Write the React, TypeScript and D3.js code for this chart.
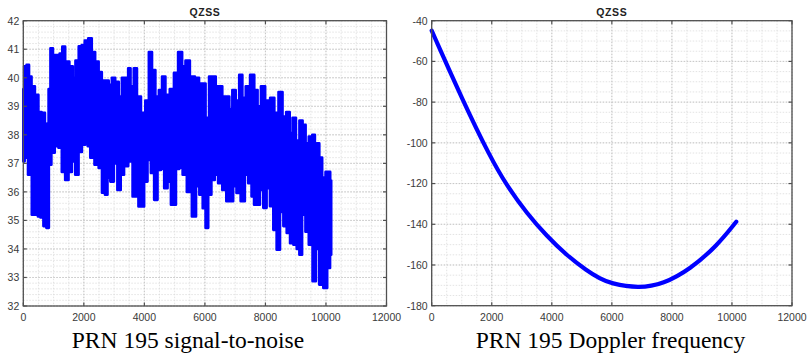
import React from "react";
import * as d3 from "d3";

const X_TICKS = [0, 2000, 4000, 6000, 8000, 10000, 12000];
const SNR_TICKS = [32, 33, 34, 35, 36, 37, 38, 39, 40, 41, 42];
const DOP_TICKS = [-180, -160, -140, -120, -100, -80, -60, -40];

const SNR_UPPER_X = [0, 56, 156, 222, 322, 444, 554, 653, 776, 819, 852, 942, 1018, 1151, 1250, 1327, 1440, 1605, 1665, 1781, 1881, 1980, 2080, 2212, 2312, 2435, 2544, 2644, 2766, 2876, 2975, 3098, 3208, 3307, 3440, 3490, 3596, 3705, 3805, 3970, 4093, 4203, 4302, 4425, 4534, 4634, 4757, 4922, 5032, 5198, 5297, 5420, 5586, 5752, 5861, 5961, 6083, 6193, 6292, 6425, 6525, 6624, 6757, 6857, 6956, 7079, 7188, 7288, 7410, 7576, 7686, 7795, 7908, 8073, 8239, 8349, 8515, 8614, 8757, 8846, 8946, 9069, 9178, 9278, 9377, 9487, 9609, 9659, 9742, 9818, 9931, 10041, 10107, 10173];
const SNR_UPPER = [39.6, 40.4, 40.45, 40.04, 39.7, 39.4, 38.8, 38.77, 38.35, 38.4, 39.6, 41.03, 40.8, 40.8, 40.85, 41.09, 40.57, 40.4, 40.0, 40.6, 41.1, 41.15, 41.3, 41.38, 40.9, 40.57, 40.2, 39.9, 39.9, 39.75, 40.0, 39.86, 39.34, 40.0, 40.0, 40.33, 39.7, 40.33, 39.34, 38.77, 39.2, 40.9, 40.27, 39.34, 39.57, 40.04, 39.4, 39.6, 40.17, 40.9, 40.4, 40.6, 40.04, 40.0, 39.8, 39.8, 38.6, 40.04, 40.04, 39.7, 39.7, 39.34, 39.34, 38.9, 39.57, 39.2, 40.1, 39.3, 39.7, 40.1, 39.57, 39.0, 39.7, 39.2, 39.3, 38.77, 39.5, 38.64, 38.8, 38.06, 38.6, 37.8, 38.5, 38.35, 37.7, 37.94, 38.0, 37.55, 37.7, 37.2, 36.5, 36.7, 36.7, 36.4];

const SNR_LOWER_X = [0, 90, 222, 338, 444, 521, 610, 720, 803, 886, 969, 1108, 1217, 1327, 1440, 1549, 1659, 1771, 1881, 1990, 2103, 2156, 2269, 2435, 2544, 2654, 2743, 2819, 2932, 3052, 3164, 3274, 3383, 3549, 3672, 3771, 3838, 3937, 4047, 4160, 4269, 4378, 4491, 4601, 4710, 4823, 4932, 4989, 5098, 5208, 5320, 5486, 5652, 5762, 5871, 5984, 6060, 6160, 6269, 6382, 6491, 6657, 6757, 6879, 6989, 7098, 7264, 7377, 7486, 7596, 7652, 7762, 7875, 7984, 8093, 8206, 8316, 8425, 8538, 8648, 8757, 8870, 8979, 9088, 9155, 9267, 9377, 9487, 9626, 9709, 9842, 9984, 10097, 10173];
const SNR_LOWER = [37.07, 37.2, 36.6, 35.2, 35.2, 35.14, 35.1, 34.8, 34.74, 36.95, 37.37, 37.6, 37.55, 36.7, 36.42, 36.7, 37.07, 36.6, 37.4, 37.65, 38.1, 37.6, 37.2, 36.95, 36.84, 35.97, 35.9, 36.5, 36.36, 37.0, 36.07, 36.6, 36.9, 37.07, 35.84, 35.84, 35.49, 35.49, 36.36, 37.12, 36.66, 35.72, 36.77, 36.8, 36.13, 36.36, 35.55, 35.55, 36.8, 36.85, 36.6, 36.0, 35.14, 36.2, 35.9, 35.43, 34.74, 35.9, 36.42, 36.6, 36.3, 36.07, 35.67, 35.67, 36.2, 35.96, 35.67, 36.6, 36.3, 35.84, 35.55, 35.55, 36.07, 35.44, 36.13, 35.5, 34.67, 33.97, 35.3, 34.8, 34.56, 34.2, 34.15, 34.0, 33.8, 35.2, 34.6, 34.15, 32.87, 34.0, 32.75, 32.63, 33.33, 33.8];

const DOP_X = [0, 1053, 1943, 2500, 3167, 3833, 4500, 5167, 5610, 5943, 6887, 7720, 8610, 9500, 10143];
const DOP_Y = [-44.9, -79.8, -106.8, -121.0, -134.6, -145.8, -155.3, -162.8, -166.8, -169.0, -171.5, -169.3, -162.0, -150.6, -138.75];

const TITLE = "QZSS";
const CAPTION_LEFT = "PRN 195 signal-to-noise";
const CAPTION_RIGHT = "PRN 195 Doppler frequency";

const BLUE = "#0000ff";
const AXIS = "#505050";
const TXT = "#3a3a3a";
const FONT = "'Liberation Sans', Arial, sans-serif";

type PanelProps = {
  left: number;
  right: number;
  top: number;
  bottom: number;
  yDomain: [number, number];
  yTicks: number[];
  yMinorStep: number;
  children: (x: d3.ScaleLinear<number, number>, y: d3.ScaleLinear<number, number>) => React.ReactNode;
  caption: string;
  captionX: number;
};

function Panel({ left, right, top, bottom, yDomain, yTicks, yMinorStep, children, caption, captionX }: PanelProps) {
  const x = d3.scaleLinear().domain([0, 12000]).range([left, right]);
  const y = d3.scaleLinear().domain(yDomain).range([bottom, top]);
  const xMinor = d3.range(0, 12000 + 1, 500);
  const yMinor = d3.range(yDomain[0], yDomain[1] + 1e-6, yMinorStep);
  const tl = 3.5;
  return (
    <g>
      <rect x={left} y={top} width={right - left} height={bottom - top} fill="#fff" />
      {xMinor.map((v, i) => (
        <line key={"xm" + i} x1={x(v)} x2={x(v)} y1={top} y2={bottom} stroke="#dcdcdc" strokeWidth={0.8} strokeDasharray="1.5,1.5" />
      ))}
      {yMinor.map((v, i) => (
        <line key={"ym" + i} x1={left} x2={right} y1={y(v)} y2={y(v)} stroke="#dcdcdc" strokeWidth={0.8} strokeDasharray="1.5,1.5" />
      ))}
      {X_TICKS.map((v, i) => (
        <line key={"xg" + i} x1={x(v)} x2={x(v)} y1={top} y2={bottom} stroke="#c4c4c4" strokeWidth={0.9} strokeDasharray="1.5,1.5" />
      ))}
      {yTicks.map((v, i) => (
        <line key={"yg" + i} x1={left} x2={right} y1={y(v)} y2={y(v)} stroke="#c4c4c4" strokeWidth={0.9} strokeDasharray="1.5,1.5" />
      ))}
      {children(x, y)}
      <rect x={left} y={top} width={right - left} height={bottom - top} fill="none" stroke={AXIS} strokeWidth={1.3} />
      {X_TICKS.map((v, i) => (
        <g key={"xt" + i}>
          <line x1={x(v)} x2={x(v)} y1={bottom} y2={bottom - tl} stroke={AXIS} strokeWidth={1.2} />
          <line x1={x(v)} x2={x(v)} y1={top} y2={top + tl} stroke={AXIS} strokeWidth={1.2} />
          <text x={x(v)} y={bottom + 15} textAnchor="middle" fontFamily={FONT} fontSize={10.5} fill={TXT}>
            {v}
          </text>
        </g>
      ))}
      {yTicks.map((v, i) => (
        <g key={"yt" + i}>
          <line x1={left} x2={left + tl} y1={y(v)} y2={y(v)} stroke={AXIS} strokeWidth={1.2} />
          <line x1={right} x2={right - tl} y1={y(v)} y2={y(v)} stroke={AXIS} strokeWidth={1.2} />
          <text x={left - 4} y={y(v) + 3.8} textAnchor="end" fontFamily={FONT} fontSize={10.5} fill={TXT}>
            {v}
          </text>
        </g>
      ))}
      <text x={(left + right) / 2} y={top - 4.5} textAnchor="middle" fontFamily={FONT} fontWeight="bold" fontSize={10.5} letterSpacing={0.6} fill="#222">
        {TITLE}
      </text>
      <text x={captionX} y={348} textAnchor="middle" fontFamily="'Liberation Serif', 'Times New Roman', serif" fontSize={23.5} fill="#000">
        {caption}
      </text>
    </g>
  );
}

export default function App() {
  const upper = SNR_UPPER_X.map((v, i) => [v, SNR_UPPER[i]] as [number, number]);
  const lower = SNR_LOWER_X.map((v, i) => [v, SNR_LOWER[i]] as [number, number]);
  const dop = DOP_X.map((v, i) => [v, DOP_Y[i]] as [number, number]);
  return (
    <svg width={812} height={357} style={{ position: "absolute", left: 0, top: 0, background: "#fff" }}>
      <rect width={812} height={357} fill="#fff" />
      <Panel left={23.3} right={386.5} top={20.7} bottom={306} yDomain={[32, 42]} yTicks={SNR_TICKS} yMinorStep={0.2} caption={CAPTION_LEFT} captionX={188}>
        {(x, y) => {
          const stepLine = d3.line<[number, number]>().x((d) => x(d[0])).y((d) => y(d[1])).curve(d3.curveStep);
          const upPath = stepLine(upper) || "";
          const loPath = (stepLine(lower.slice().reverse()) || "").replace(/^M/, "L");
          return (
            <path d={upPath + loPath + "Z"} fill={BLUE} stroke={BLUE} strokeWidth={2.6} strokeLinejoin="round" />
          );
        }}
      </Panel>
      <Panel left={431.7} right={792} top={20.7} bottom={305.7} yDomain={[-180, -40]} yTicks={DOP_TICKS} yMinorStep={5} caption={CAPTION_RIGHT} captionX={610.5}>
        {(x, y) => {
          const line = d3.line<[number, number]>().x((d) => x(d[0])).y((d) => y(d[1])).curve(d3.curveBasis);
          return <path d={line(dop) || ""} fill="none" stroke={BLUE} strokeWidth={4.2} strokeLinecap="round" />;
        }}
      </Panel>
    </svg>
  );
}
